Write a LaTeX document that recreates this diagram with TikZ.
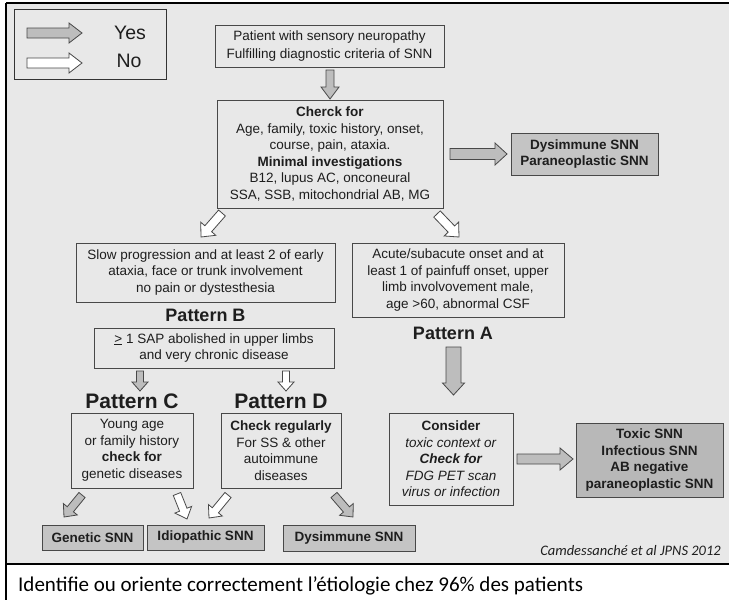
\documentclass[tikz,border=0pt]{standalone}
\usepackage{fontspec}
\setmainfont{Liberation Sans}
\newfontfamily\calib{Carlito}
\usepackage{xcolor}
\usetikzlibrary{calc,positioning}
\definecolor{bggray}{HTML}{E8E8E8}
\definecolor{resgray}{HTML}{C4C4C4}
\definecolor{toxgray}{HTML}{B8B8B8}
\definecolor{arrgray}{HTML}{BDBDBD}
\definecolor{ink}{HTML}{1E1E1E}
\definecolor{edge}{HTML}{484848}
\tikzset{
  crit/.style={rectangle, draw=edge, line width=0.9pt, fill=bggray, align=center,
               text=ink, font=\fontsize{13.5}{16.5}\selectfont, inner sep=0pt},
  res/.style={crit, fill=resgray, font=\fontsize{13.5}{16.5}\selectfont\bfseries},
  patt/.style={font=\fontsize{18}{20}\selectfont\bfseries, text=ink, inner sep=0pt},
  pattbig/.style={patt, font=\fontsize{21}{23}\selectfont\bfseries},
  legtxt/.style={font=\fontsize{19.5}{21}\selectfont, text=ink, inner sep=0pt},
  bsw/.initial=4.5, bhw/.initial=10, bhl/.initial=11,
  barrow/.style={draw=edge, line width=0.8pt, to path={
    let \p1=($(\tikztotarget)-(\tikztostart)$),
        \n1={veclen(\x1,\y1)}, \n2={atan2(\y1,\x1)},
        \n3={\pgfkeysvalueof{/tikz/bsw}}, \n4={\pgfkeysvalueof{/tikz/bhw}},
        \n5={\pgfkeysvalueof{/tikz/bhl}} in
    {[shift={(\tikztostart)}, rotate=\n2]
      (0,-\n3) -- (\n1-\n5,-\n3) -- (\n1-\n5,-\n4) -- (\n1,0)
      -- (\n1-\n5,\n4) -- (\n1-\n5,\n3) -- (0,\n3) -- cycle}}},
  yesarr/.style={barrow, fill=arrgray},
  noarr/.style={barrow, fill=white},
}

\begin{document}
\begin{tikzpicture}[x=1pt,y=1pt]
\useasboundingbox (0,0) rectangle (729,-600);
\fill[bggray] (6,-3) rectangle (729,-564);
\draw[line width=1.8pt] (6,-3) -- (729,-3);
\draw[line width=1.5pt] (6,-3) -- (6,-600);
\draw[line width=2pt] (6,-564) -- (729,-564);

\node[crit, draw=black!80, minimum width=152, minimum height=70] (leg) at (90,-44) {};
\coordinate (ly1) at (27,-33); \coordinate (ly2) at (82,-33);
\coordinate (ln1) at (27,-63); \coordinate (ln2) at (82,-63);
\draw[yesarr, bsw=5, bhw=10, bhl=13] (ly1) to (ly2);
\draw[noarr, bsw=5, bhw=10, bhl=13] (ln1) to (ln2);
\node[legtxt, anchor=base] (yes) at (130,-39.5) {Yes};
\node[legtxt, anchor=base] (no) at (129,-67) {No};

\node[crit, minimum width=229, minimum height=42,
      font=\fontsize{13.5}{18}\selectfont] (pat) at (329.5,-46)
  {Patient with sensory neuropathy\\Fulfilling diagnostic criteria of SNN};
\node[crit, minimum width=226, minimum height=108] (chk) at (330,-154)
  {\textbf{Cherck for}\\Age, family, toxic history, onset,\\course, pain, ataxia.\\
   \textbf{Minimal investigations}\\B12, lupus AC, onconeural\\SSA, SSB, mitochondrial AB, MG};
\node[res, minimum width=147, minimum height=42] (dys) at (584.5,-154)
  {Dysimmune SNN\\Paraneoplastic SNN};

\node[crit, minimum width=259, minimum height=59] (bcrit) at (205.5,-272.5)
  {Slow progression and at least 2 of early\\ataxia, face or trunk involvement\\no pain or dystesthesia};
\node[crit, minimum width=212, minimum height=74] (acrit) at (458,-280)
  {Acute/subacute onset and at\\least 1 of painfuff onset, upper\\limb involvovement male,\\age >60, abnormal CSF};
\node[patt, below=6.5 of bcrit] (pB) {Pattern B};
\node[patt] (pA) at (453,-333) {Pattern A};

\node[crit, minimum width=240, minimum height=40] (sap) at (214,-348)
  {\underline{>} 1 SAP abolished in upper limbs\\and very chronic disease};

\node[crit, minimum width=122, minimum height=75] (cbox) at (132,-450.5)
  {Young age\\or family history\\\textbf{check for}\\genetic diseases};
\node[crit, minimum width=120, minimum height=75] (dbox) at (281,-450.5)
  {\textbf{Check regularly}\\For SS \& other\\autoimmune\\diseases};
\node[pattbig, above=4 of cbox] (pC) {Pattern C};
\node[pattbig, above=4 of dbox] (pD) {Pattern D};

\node[crit, minimum width=124, minimum height=92] (cons) at (451,-459)
  {\textbf{Consider}\\\textit{toxic context or}\\\textbf{\textit{Check for}}\\\textit{FDG PET scan}\\\textit{virus or infection}};
\node[res, fill=toxgray, minimum width=147, minimum height=74] (tox) at (649.5,-460)
  {Toxic SNN\\Infectious SNN\\AB negative\\paraneoplastic SNN};

\node[res, minimum width=101, minimum height=25] (gen) at (92.5,-537.5) {Genetic SNN};
\node[res, minimum width=117, minimum height=25] (idio) at (205.5,-537.5) {Idiopathic SNN};
\node[res, minimum width=132, minimum height=26] (dys2) at (349,-538) {Dysimmune SNN};

\coordinate (a1s) at (330,-70);    \coordinate (a1e) at (330,-99);
\coordinate (a2s) at (450,-154);   \coordinate (a2e) at (507,-154);
\coordinate (a3s) at (222,-213);   \coordinate (a3e) at (201,-237);
\coordinate (a4s) at (437,-214);   \coordinate (a4e) at (459,-237);
\coordinate (a5s) at (140,-371);   \coordinate (a5e) at (140,-391);
\coordinate (a6s) at (286,-371);   \coordinate (a6e) at (286,-391);
\coordinate (a7s) at (453.5,-347); \coordinate (a7e) at (453.5,-395);
\coordinate (a8s) at (517,-459);   \coordinate (a8e) at (573,-459);
\coordinate (g1s) at (82,-495);    \coordinate (g1e) at (64,-517);
\coordinate (w1s) at (177,-494);   \coordinate (w1e) at (187,-519);
\coordinate (w2s) at (228,-495);   \coordinate (w2e) at (209,-518);
\coordinate (g2s) at (334,-495);   \coordinate (g2e) at (353,-517);

\draw[yesarr, bsw=4, bhw=9, bhl=12] (a1s) to (a1e);
\draw[yesarr, bsw=5.5, bhw=11, bhl=12] (a2s) to (a2e);
\draw[noarr] (a3s) to (a3e);
\draw[noarr] (a4s) to (a4e);
\draw[yesarr, bsw=3.5, bhw=8, bhl=9] (a5s) to (a5e);
\draw[noarr, bsw=3.5, bhw=8, bhl=9] (a6s) to (a6e);
\draw[yesarr, bsw=7.5, bhw=11, bhl=12] (a7s) to (a7e);
\draw[yesarr, bsw=5, bhw=11, bhl=13] (a8s) to (a8e);
\draw[yesarr, bsw=4, bhw=9, bhl=10] (g1s) to (g1e);
\draw[noarr, bsw=4, bhw=9, bhl=10] (w1s) to (w1e);
\draw[noarr, bsw=4, bhw=9, bhl=10] (w2s) to (w2e);
\draw[yesarr, bsw=4, bhw=9, bhl=10] (g2s) to (g2e);

\node[anchor=base east, inner sep=0pt, text=ink, font=\calib\itshape\fontsize{14.5}{16}\selectfont]
  (cite) at (721,-555) {Camdessanché et al JPNS 2012};
\node[anchor=base west, inner sep=0pt, font=\calib\fontsize{21}{24}\selectfont]
  (concl) at (18,-591) {Identifie ou oriente correctement l’étiologie chez 96\% des patients};
\end{tikzpicture}
\end{document}
